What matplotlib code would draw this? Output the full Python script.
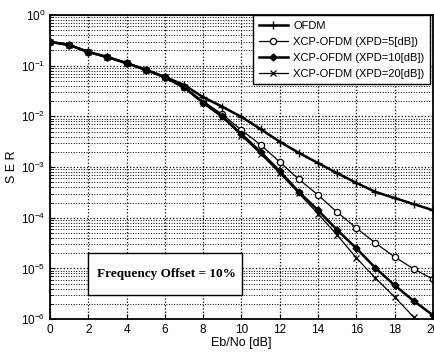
import matplotlib
matplotlib.use("Agg")
import matplotlib.pyplot as plt
import numpy as np
from matplotlib.patches import Rectangle

ebno = list(range(0, 21))
# log10(SER)
ofdm_log = [-0.53, -0.59, -0.73, -0.83, -0.95, -1.08, -1.22, -1.38, -1.62, -1.81, -2.01,
            -2.25, -2.50, -2.72, -2.92, -3.12, -3.31, -3.49, -3.61, -3.73, -3.85]
xpd5_log = [-0.53, -0.59, -0.73, -0.83, -0.95, -1.08, -1.23, -1.42, -1.70, -1.96, -2.27,
            -2.56, -2.90, -3.24, -3.55, -3.89, -4.20, -4.50, -4.77, -5.01, -5.21]
xpd10_log = [-0.53, -0.59, -0.73, -0.83, -0.95, -1.08, -1.23, -1.43, -1.73, -2.00, -2.35,
             -2.70, -3.08, -3.49, -3.85, -4.24, -4.60, -4.99, -5.33, -5.64, -5.92]
xpd20_log = [-0.53, -0.59, -0.73, -0.83, -0.95, -1.08, -1.23, -1.43, -1.74, -2.02, -2.38,
             -2.74, -3.12, -3.52, -3.92, -4.34, -4.79, -5.19, -5.56, -5.96, -6.35]
labels = ["OFDM", "XCP-OFDM (XPD=5[dB])", "XCP-OFDM (XPD=10[dB])", "XCP-OFDM (XPD=20[dB])"]

plt.rcParams['font.family'] = ['Liberation Sans', 'DejaVu Sans']

fig = plt.figure(figsize=(4.35, 3.57), dpi=100)
ax = fig.add_axes([0.115, 0.106, 0.88, 0.852])

x = np.array(ebno)
ax.semilogy(x, 10**np.array(ofdm_log), color='k', lw=1.8, marker='+', ms=6, mew=1.0, label=labels[0])
ax.semilogy(x, 10**np.array(xpd5_log), color='k', lw=0.9, marker='o', ms=4.5, mfc='white', mew=0.9, label=labels[1])
ax.semilogy(x, 10**np.array(xpd10_log), color='k', lw=1.8, marker='D', ms=3.5, mfc='k', label=labels[2])
ax.semilogy(x, 10**np.array(xpd20_log), color='k', lw=0.9, marker='x', ms=4, mew=0.9, label=labels[3])

ax.set_xlim(0, 20)
ax.set_ylim(1e-6, 1)
ax.set_xticks(range(0, 21, 2))
ax.grid(which='major', linestyle=':', color='k', linewidth=0.9)
ax.grid(which='minor', axis='y', linestyle=':', color='k', linewidth=0.7)
ax.tick_params(which='both', direction='in', labelsize=8.5)
ax.tick_params(which='minor', length=2)
for s in ax.spines.values():
    s.set_linewidth(1.3)

ax.set_xlabel("Eb/No [dB]", fontsize=9, labelpad=1)
ax.set_ylabel("S E R", fontsize=9, labelpad=2)

leg = ax.legend(loc='upper right', bbox_to_anchor=(0.993, 1.0), fontsize=8, frameon=True,
                fancybox=False, edgecolor='k', framealpha=1, borderpad=0.5,
                labelspacing=0.55, handlelength=2.6, handletextpad=0.5, borderaxespad=0.0)
leg.get_frame().set_linewidth(1.0)

rect = Rectangle((2, 10**-5.52), 8.05, 10**-4.69 - 10**-5.52, transform=ax.transData,
                 facecolor='white', edgecolor='k', linewidth=1.0, zorder=5)
ax.add_patch(rect)
ax.text(6.06, 10**-5.11, "Frequency Offset = 10%", ha='center', va='center',
        fontsize=9.5, fontweight='bold', family=['Liberation Serif'], zorder=6)

fig.savefig("out.png", dpi=100)
